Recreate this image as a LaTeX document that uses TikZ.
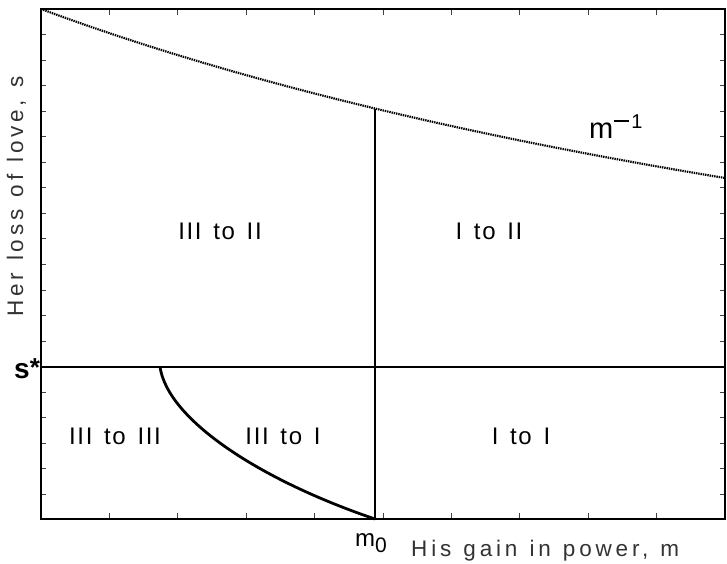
\documentclass[tikz,border=0pt]{standalone}
\usepackage{fontspec}
\setmainfont{Liberation Sans}
\newfontfamily\lblfont[LetterSpace=7,WordSpace=1.4]{Liberation Sans}
\newfontfamily\axfont[LetterSpace=17,WordSpace=1.2]{Liberation Sans}
\begin{document}
\begin{tikzpicture}[x=1pt,y=-1pt,
  frame/.style={line width=2.4pt},
  tick/.style={line width=1pt,black!75},
  bound/.style={line width=2.4pt},
  dotcurve/.style={line width=2.2pt,dash pattern=on 1.4pt off 0.9pt},
  region/.style={inner sep=0pt,font=\lblfont\fontsize{24}{26}\selectfont},
  axlabel/.style={inner sep=0pt,text=black!80,font=\axfont\fontsize{22.5}{24}\selectfont},
  symb/.style={inner sep=0pt}]
\useasboundingbox (0,0) rectangle (727,563);
% frame corners
\coordinate (tl) at (41,9);
\coordinate (br) at (725,519);
% ticks
\foreach \k in {1,...,9}{
  \draw[tick] ({41+68.4*\k},519) -- ++(0,-6);
  \draw[tick] ({41+68.4*\k},9) -- ++(0,6);
}
\foreach \k in {1,...,19}{
  \draw[tick] (41,{9+25.55*\k}) -- ++(5,0);
  \draw[tick] (725,{9+25.55*\k}) -- ++(-5,0);
}
\draw[frame] (tl) rectangle (br);
% m^{-1} curve
\draw[dotcurve] plot[domain=41:725,samples=120] (\x,{516-507/(1+0.5*(\x-41)/684)});
% boundaries
\coordinate (sL) at (41,367);
\coordinate (sR) at (725,367);
\coordinate (m0) at (375,519);
\coordinate (mtop) at (375,108.5);
\coordinate (c0) at (160,367);
\draw[bound] (sL) -- (sR);
\draw[bound] (m0) -- (mtop);
\draw[line width=2.8pt] (c0) .. controls (168,420) and (260,480) .. (m0);
% region labels
\node[region] (r1) at (220,231) {III to II};
\node[region] (r2) at (489,231) {I to II};
\node[region] (r3) at (115,436) {III to III};
\node[region] (r4) at (283,436) {III to I};
\node[region] (r5) at (521,436) {I to I};
% symbols
\node[symb,anchor=base west] (minv) at (589,138) {\fontsize{29}{30}\selectfont m\hspace{1pt}\raisebox{10pt}{\rule[6pt]{15pt}{1.8pt}\hspace{2pt}\fontsize{20}{20}\selectfont 1}};
\node[symb,anchor=base west] (sstar) at (14,378) {\bfseries\fontsize{28}{32}\selectfont s\raisebox{2pt}{\fontsize{26}{26}\selectfont *}};
\node[symb,anchor=base west] (mzero) at (355,546) {\fontsize{24}{25}\selectfont m\raisebox{-6pt}{\fontsize{21}{21}\selectfont 0}};
% axis labels
\node[axlabel,anchor=base west] (xlab) at (411,556) {His gain in power, m};
\node[axlabel,anchor=base west,rotate=90] (ylab) at (23,317) {Her loss of love, s};
\end{tikzpicture}
\end{document}
